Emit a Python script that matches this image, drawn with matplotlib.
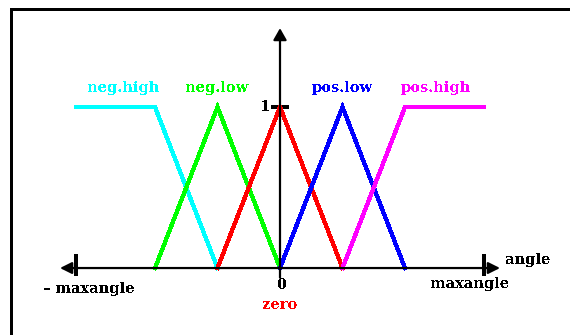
import matplotlib
matplotlib.use("Agg")
import matplotlib.pyplot as plt
from matplotlib.lines import Line2D

# fuzzy sets for the angle input, in units of one set width
max_angle = 3.27
set_names = ["neg.high", "neg.low", "zero", "pos.low", "pos.high"]
set_colors = ["#00ffff", "#00ff00", "#ff0000", "#0000ff", "#ff00ff"]
neg_high_x = [-max_angle, -2, -1]
neg_high_mu = [1, 1, 0]
neg_low_x = [-2, -1, 0]
neg_low_mu = [0, 1, 0]
zero_x = [-1, 0, 1]
zero_mu = [0, 1, 0]
pos_low_x = [0, 1, 2]
pos_low_mu = [0, 1, 0]
pos_high_x = [1, 2, max_angle]
pos_high_mu = [0, 1, 1]
label_x = [-2.5, -1, 0, 1, 2.5]

plt.rcParams["text.antialiased"] = False
fig = plt.figure(figsize=(5.7, 3.35), dpi=100)
ax = fig.add_axes([0, 0, 1, 1])
ax.set_xlim(-4.48, 4.64)
ax.set_ylim(-0.416, 1.665)
ax.axis("off")

# frame: only top and left edges
fig.add_artist(Line2D([11 / 570, 1], [1 - 9 / 335, 1 - 9 / 335], transform=fig.transFigure,
                      color="black", lw=2.0, antialiased=False))
fig.add_artist(Line2D([11 / 570, 11 / 570], [0, 1 - 9 / 335], transform=fig.transFigure,
                      color="black", lw=2.0, antialiased=False))

# axes with arrows
ax.annotate("", xy=(-3.52, 0), xytext=(3.52, 0),
            arrowprops=dict(arrowstyle="<|-|>,head_length=0.7,head_width=0.35",
                            color="black", lw=1.6, shrinkA=0, shrinkB=0))
ax.annotate("", xy=(0, 1.49), xytext=(0, -0.06),
            arrowprops=dict(arrowstyle="-|>,head_length=0.7,head_width=0.4",
                            color="black", lw=1.6, shrinkA=0, shrinkB=0))
for t in (-max_angle, max_angle):
    ax.plot([t, t], [-0.035, 0.075], color="black", lw=1.6, antialiased=False)
ax.plot([-0.12, 0.11], [1, 1], color="black", lw=1.6, antialiased=False)

xs = [neg_high_x, neg_low_x, zero_x, pos_low_x, pos_high_x]
mus = [neg_high_mu, neg_low_mu, zero_mu, pos_low_mu, pos_high_mu]
for x, mu, c in zip(xs, mus, set_colors):
    ax.plot(x, mu, color=c, lw=2.3, antialiased=False, solid_joinstyle="miter")

font = dict(family="DejaVu Serif", fontweight="bold", fontsize=10.5)
for name, lx, c in zip(set_names, label_x, set_colors):
    y = -0.23 if name == "zero" else 1.12
    ax.text(lx, y, name, color=c, ha="center", va="center", **font)

ax.text(-0.15, 1.0, "1", ha="right", va="center", **font)
ax.text(0.03, -0.105, "0", ha="center", va="center", **font)
ax.text(-3.79, -0.13, "\u2013 maxangle", ha="left", va="center", **font)
ax.text(3.04, -0.1, "maxangle", ha="center", va="center", **font)
ax.text(3.97, 0.05, "angle", ha="center", va="center", **font)

fig.savefig("out.png", dpi=100)
